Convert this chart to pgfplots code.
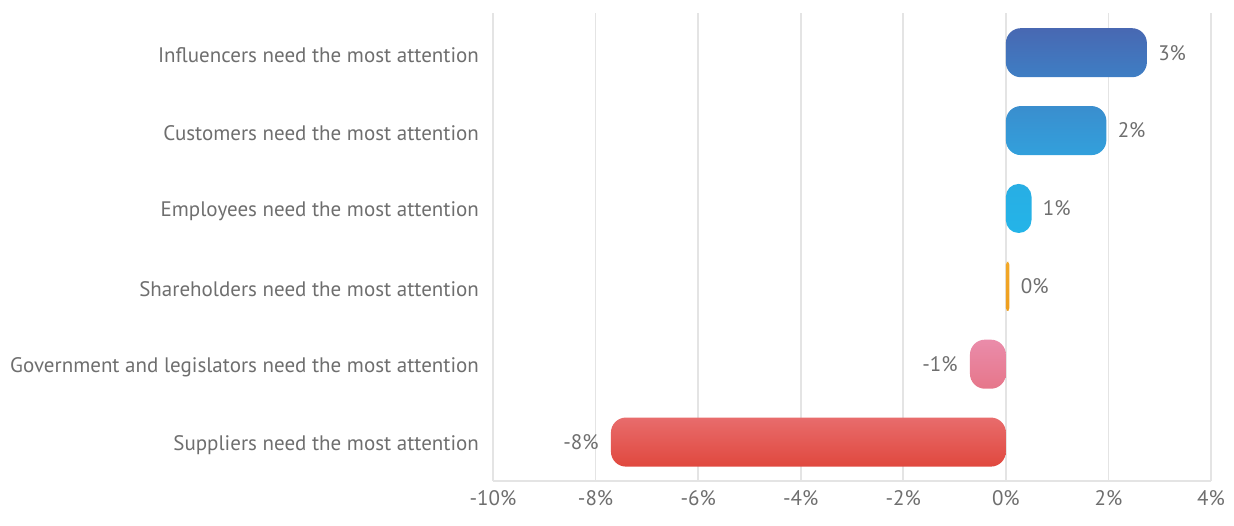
\documentclass[border=0pt]{standalone}
\usepackage{pgfplots}
\pgfplotsset{compat=1.18}
\usepackage{fontspec}
\setmainfont{PT Sans}
\definecolor{txt}{HTML}{6E6E6E}
\definecolor{gridc}{HTML}{E4E4E4}
\begin{document}
\begin{tikzpicture}
\useasboundingbox (-246.5pt,-22pt) rectangle (370.5pt,240.5pt);
\begin{axis}[
  at={(0,0)}, anchor=south west,
  scale only axis, width=359pt, height=234pt,
  xmin=-10, xmax=4, ymin=0.5, ymax=6.51,
  xtick={-10,-8,...,4},
  xticklabels={-10\%,-8\%,-6\%,-4\%,-2\%,0\%,2\%,4\%},
  ytick={1,...,6},
  yticklabels={Suppliers need the most attention,Government and legislators need the most attention,Shareholders need the most attention,Employees need the most attention,Customers need the most attention,Influencers need the most attention},
  xmajorgrids, major grid style={draw=gridc, line width=0.8pt},
  axis x line*=bottom, axis y line*=left,
  x axis line style={-, draw=gridc, line width=0.8pt},
  y axis line style={draw=none},
  major tick length=0pt,
  tick label style={font=\fontsize{10.5}{12}\selectfont, text=txt},
  xticklabel style={yshift=-1pt},
  yticklabel style={xshift=-3.5pt, yshift=-1.3pt},
  clip=false,
]
\addplot[xbar, bar width=0.63, bar shift=0pt, draw=none, rounded corners=7.5pt, top color={rgb,255:red,72;green,104;blue,178}, bottom color={rgb,255:red,62;green,126;blue,196}] coordinates {(2.75,6)};
\addplot[xbar, bar width=0.63, bar shift=0pt, draw=none, rounded corners=7.5pt, top color={rgb,255:red,58;green,142;blue,206}, bottom color={rgb,255:red,50;green,160;blue,220}] coordinates {(1.96,5)};
\addplot[xbar, bar width=0.63, bar shift=0pt, draw=none, rounded corners=6.4pt, top color={rgb,255:red,40;green,174;blue,228}, bottom color={rgb,255:red,36;green,180;blue,232}] coordinates {(0.5,4)};
\addplot[xbar, bar width=0.63, bar shift=0pt, draw=none, rounded corners=1.5pt, top color={rgb,255:red,242;green,168;blue,40}, bottom color={rgb,255:red,238;green,158;blue,30}] coordinates {(0.07,3)};
\addplot[xbar, bar width=0.63, bar shift=0pt, draw=none, rounded corners=7.5pt, top color={rgb,255:red,234;green,140;blue,170}, bottom color={rgb,255:red,230;green,118;blue,138}] coordinates {(-0.7,2)};
\addplot[xbar, bar width=0.63, bar shift=0pt, draw=none, rounded corners=7.5pt, top color={rgb,255:red,232;green,108;blue,108}, bottom color={rgb,255:red,224;green,72;blue,62}] coordinates {(-7.7,1)};
\addplot[draw=none, mark=none, point meta=explicit symbolic, nodes near coords,
  nodes near coords style={font=\fontsize{10.5}{12}\selectfont, text=txt, anchor=west, inner sep=0pt, xshift=5.5pt}]
  coordinates {(2.75,6)[3\%] (1.96,5)[2\%] (0.5,4)[1\%] (0.07,3)[0\%]};
\addplot[draw=none, mark=none, point meta=explicit symbolic, nodes near coords,
  nodes near coords style={font=\fontsize{10.5}{12}\selectfont, text=txt, anchor=east, inner sep=0pt, xshift=-6pt}]
  coordinates {(-0.7,2)[-1\%] (-7.7,1)[-8\%]};
\end{axis}
\end{tikzpicture}
\end{document}
